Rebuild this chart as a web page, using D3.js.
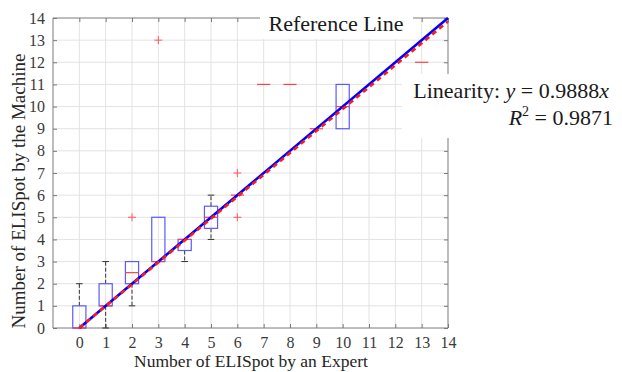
<!DOCTYPE html>
<html><head><meta charset="utf-8">
<script src="https://cdn.jsdelivr.net/npm/d3@7/dist/d3.min.js"></script>
<style>body{margin:0;background:#fff}svg{display:block}</style>
</head><body>
<svg id="c" width="622" height="372"></svg>
<script>
// data
const categories = [0,1,2,3,4,5,6,7,8,9,10,11,12,13,14];
const q1        = [0, 1, 2,   3, 3.5, 4.5, 6, 11, 11, 9, 9,  null, null, 12, null];
const medians   = [0, 1, 2.5, 3, 4,   5,   6, 11, 11, 9, 10, null, null, 12, null];
const q3        = [1, 2, 3,   5, 4,   5.5, 6, 11, 11, 9, 11, null, null, 12, null];
const whiskLow  = [0, 0, 1,   3, 3,   4,   6, 11, 11, 9, 9,  null, null, 12, null];
const whiskHigh = [2, 3, 3,   5, 4,   6,   6, 11, 11, 9, 11, null, null, 12, null];
const outlierX  = [2, 3, 6, 6];
const outlierY  = [5, 13, 7, 5];
const tickValues = [0,1,2,3,4,5,6,7,8,9,10,11,12,13,14];
const slope = 0.9888;
const r2 = 0.9871;

const svg = d3.select('#c');
const L=53, R=448, T=18, B=328;
const x = d3.scaleLinear().domain([-1,14]).range([L,R]);
const y = d3.scaleLinear().domain([0,14]).range([B,T]);
const serif = '"Liberation Serif","Times New Roman",serif';

// grid
const g = svg.append('g');
g.selectAll('.vg').data(tickValues.filter(d=>d<14)).enter().append('line')
  .attr('x1',d=>x(d)).attr('x2',d=>x(d)).attr('y1',T).attr('y2',B)
  .attr('stroke','#e3e3e3').attr('stroke-width',1);
g.selectAll('.hg').data(tickValues.filter(d=>d>0&&d<14)).enter().append('line')
  .attr('x1',L).attr('x2',R).attr('y1',d=>y(d)).attr('y2',d=>y(d))
  .attr('stroke','#e3e3e3').attr('stroke-width',1);

// axes
const ax = svg.append('g');
const xAxB = d3.axisBottom(x).tickValues(tickValues).tickSize(-4).tickPadding(9).tickFormat(d3.format('d'));
const xAxT = d3.axisTop(x).tickValues(tickValues).tickSize(-4).tickFormat('');
const yAxL = d3.axisLeft(y).tickValues(tickValues).tickSize(-4).tickPadding(8).tickFormat(d3.format('d'));
const yAxR = d3.axisRight(y).tickValues(tickValues).tickSize(-4).tickFormat('');
function styleAx(sel){
  sel.select('.domain').attr('stroke','#7a7a7a');
  sel.selectAll('.tick line').attr('stroke','#7a7a7a');
  sel.selectAll('.tick text').attr('fill','#3a3a3a').attr('font-family',serif).attr('font-size',16);
}
ax.append('g').attr('transform',`translate(0,${B})`).call(xAxB).call(s=>{s.select('.domain').attr('d',`M${L},0H${R}`);styleAx(s);});
ax.append('g').attr('transform',`translate(0,${T})`).call(xAxT).call(s=>{s.select('.domain').attr('d',`M${L},0H${R}`);styleAx(s);});
ax.append('g').attr('transform',`translate(${L},0)`).call(yAxL).call(s=>{s.select('.domain').attr('d',`M0,${B}V${T}`);styleAx(s);});
ax.append('g').attr('transform',`translate(${R},0)`).call(yAxR).call(s=>{s.select('.domain').attr('d',`M0,${B}V${T}`);styleAx(s);});

// boxes
const bw = 0.25; // half width in data units
const boxes = categories.map((c,i)=>({c, q1:q1[i], med:medians[i], q3:q3[i], lo:whiskLow[i], hi:whiskHigh[i]})).filter(d=>d.med!==null);
const bg = svg.append('g');
boxes.forEach(d=>{
  if(d.hi>d.q3){
    bg.append('line').attr('x1',x(d.c)).attr('x2',x(d.c)).attr('y1',y(d.q3)).attr('y2',y(d.hi))
      .attr('stroke','#333').attr('stroke-dasharray','4,2').attr('stroke-width',1);
    bg.append('line').attr('x1',x(d.c-bw/2)).attr('x2',x(d.c+bw/2)).attr('y1',y(d.hi)).attr('y2',y(d.hi))
      .attr('stroke','#333').attr('stroke-width',1);
  }
  if(d.lo<d.q1){
    bg.append('line').attr('x1',x(d.c)).attr('x2',x(d.c)).attr('y1',y(d.q1)).attr('y2',y(d.lo))
      .attr('stroke','#333').attr('stroke-dasharray','4,2').attr('stroke-width',1);
    bg.append('line').attr('x1',x(d.c-bw/2)).attr('x2',x(d.c+bw/2)).attr('y1',y(d.lo)).attr('y2',y(d.lo))
      .attr('stroke','#333').attr('stroke-width',1);
  }
  if(d.q3>d.q1){
    bg.append('rect').attr('x',x(d.c-bw)).attr('width',x(d.c+bw)-x(d.c-bw))
      .attr('y',y(d.q3)).attr('height',y(d.q1)-y(d.q3))
      .attr('fill','none').attr('stroke','#5a5aff').attr('stroke-width',1.2);
  }
  bg.append('line').attr('x1',x(d.c-bw)).attr('x2',x(d.c+bw)).attr('y1',y(d.med)).attr('y2',y(d.med))
    .attr('stroke','#ff4040').attr('stroke-width',1.2);
});
// outliers
const og = svg.append('g');
outlierX.forEach((ox,i)=>{
  const cx=x(ox), cy=y(outlierY[i]);
  og.append('path').attr('d',`M${cx-4},${cy}H${cx+4}M${cx},${cy-4}V${cy+4}`)
    .attr('stroke','#ff5a5a').attr('stroke-width',1);
});

// lines
svg.append('line').attr('x1',x(0)).attr('y1',y(0)).attr('x2',x(14)).attr('y2',y(14))
  .attr('stroke','#0000ff').attr('stroke-width',2.6);
svg.append('line').attr('x1',x(0)).attr('y1',y(0)).attr('x2',x(14)).attr('y2',y(14*slope))
  .attr('stroke','#ff1a1a').attr('stroke-width',2.6).attr('stroke-dasharray','5,4');

// text boxes
svg.append('rect').attr('x',260).attr('y',0).attr('width',153).attr('height',39).attr('fill','#fff');
svg.append('text').attr('x',336).attr('y',31).attr('text-anchor','middle')
  .attr('font-family',serif).attr('font-size',22).attr('fill','#1a1a1a').text('Reference Line');

svg.append('rect').attr('x',402).attr('y',74).attr('width',220).attr('height',64).attr('fill','#fff');
const t1 = svg.append('text').attr('x',609).attr('y',98).attr('text-anchor','end')
  .attr('font-family',serif).attr('font-size',22).attr('fill','#1a1a1a');
t1.append('tspan').text('Linearity: ');
t1.append('tspan').attr('font-style','italic').text('y');
t1.append('tspan').text(' = ' + slope.toFixed(4));
t1.append('tspan').attr('font-style','italic').text('x');
const t2 = svg.append('text').attr('x',613).attr('y',125).attr('text-anchor','end')
  .attr('font-family',serif).attr('font-size',22).attr('fill','#1a1a1a');
t2.append('tspan').attr('font-style','italic').text('R');
t2.append('tspan').attr('font-size',14).attr('dy',-9).text('2');
t2.append('tspan').attr('dy',9).text(' = ' + r2.toFixed(4));

// axis labels
svg.append('text').attr('x',251).attr('y',367).attr('text-anchor','middle')
  .attr('font-family',serif).attr('font-size',17.5).attr('fill','#262626').text('Number of ELISpot by an Expert');
svg.append('text').attr('transform','translate(25,191) rotate(-90)').attr('text-anchor','middle')
  .attr('font-family',serif).attr('font-size',19).attr('fill','#262626').text('Number of ELISpot by the Machine');
</script>
</body></html>
